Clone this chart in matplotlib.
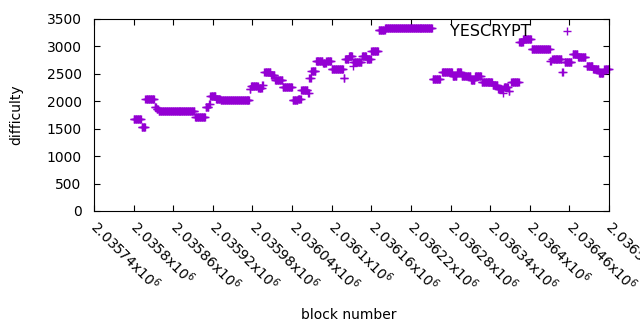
import numpy as np
import matplotlib
matplotlib.use("Agg")
import matplotlib.pyplot as plt

# runs of blocks that share the same difficulty (first block, last block, difficulty)
run_first = [2035800, 2035812, 2035818, 2035832, 2035835, 2035838, 2035893, 2035909,
             2035914, 2035916, 2035925, 2035932, 2035976, 2035978, 2035989, 2035995,
             2035998, 2036008, 2036014, 2036026, 2036041, 2036049, 2036054, 2036064,
             2036066, 2036069, 2036076, 2036087, 2036092, 2036100, 2036118, 2036120,
             2036126, 2036132, 2036133, 2036146, 2036153, 2036160, 2036171, 2036181,
             2036253, 2036267, 2036283, 2036290, 2036297, 2036311, 2036317, 2036327,
             2036344, 2036352, 2036360, 2036361, 2036368, 2036372, 2036384, 2036390,
             2036403, 2036431, 2036434, 2036449, 2036453, 2036465, 2036473, 2036486,
             2036496, 2036505, 2036513]
run_last = [2035811, 2035817, 2035831, 2035834, 2035837, 2035892, 2035908, 2035913,
            2035915, 2035924, 2035931, 2035975, 2035977, 2035988, 2035994, 2035996,
            2036007, 2036013, 2036025, 2036040, 2036048, 2036053, 2036063, 2036065,
            2036068, 2036075, 2036086, 2036091, 2036099, 2036117, 2036119, 2036125,
            2036131, 2036132, 2036145, 2036152, 2036159, 2036170, 2036180, 2036252,
            2036264, 2036282, 2036289, 2036296, 2036310, 2036316, 2036326, 2036343,
            2036351, 2036359, 2036360, 2036367, 2036369, 2036383, 2036389, 2036402,
            2036430, 2036432, 2036448, 2036450, 2036463, 2036472, 2036484, 2036495,
            2036504, 2036511, 2036520]
run_diff = [1670, 1525, 2040, 1890, 1855, 1815, 1710, 1890,
            1950, 2090, 2045, 2020, 2225, 2280, 2250, 2300,
            2530, 2475, 2385, 2255, 2015, 2045, 2200, 2160,
            2420, 2550, 2730, 2695, 2730, 2585, 2420, 2770,
            2820, 2650, 2710, 2830, 2770, 2910, 3295, 3335,
            2400, 2540, 2460, 2535, 2460, 2390, 2460, 2350,
            2305, 2220, 2160, 2255, 2195, 2350, 3080, 3135,
            2950, 2735, 2775, 2530, 2710, 2870, 2800, 2650,
            2595, 2510, 2595]

x_ticks = np.arange(2035740, 2036521, 60)

blocks = []
difficulty = []
for a, b, d in zip(run_first, run_last, run_diff):
    for blk in range(a, b + 1):
        blocks.append(blk)
        difficulty.append(d)

plt.rcParams['font.family'] = ['DejaVu Sans']
plt.rcParams['font.size'] = 10

fig = plt.figure(figsize=(6.4, 3.3), dpi=100)
ax = fig.add_axes([94 / 640, 1 - 211 / 330, 515 / 640, 192 / 330])

ax.plot(blocks, difficulty, linestyle='none', marker='+', markersize=5.5,
        markeredgewidth=1, color='#9400d3', label='YESCRYPT', clip_on=False)

ax.set_xlim(2035740, 2036520)
ax.set_ylim(0, 3500)
ax.set_yticks(np.arange(0, 3501, 500))
ax.set_xticks(x_ticks)
ax.set_xticklabels(['%gx10$^6$' % (v / 1e6) for v in x_ticks],
                   rotation=-45, ha='left', va='center', rotation_mode='anchor')
ax.tick_params(direction='in', length=4, width=0.8, top=True, right=True)
ax.tick_params(axis='y', pad=9)
ax.tick_params(axis='x', pad=9)
for s in ax.spines.values():
    s.set_linewidth(0.8)

ax.set_xlabel('block number')
ax.set_ylabel('difficulty')
ax.xaxis.set_label_coords(0.495, -0.505)
ax.yaxis.set_label_coords(-0.137, 0.5)

ax.legend(loc='center right', bbox_to_anchor=(583 / 640, 1 - 31.7 / 330),
          bbox_transform=fig.transFigure, frameon=False, markerfirst=False,
          borderpad=0, borderaxespad=0, handlelength=2, handletextpad=1.31,
          numpoints=1, fontsize=11.5)

fig.savefig('out.png', dpi=100)
